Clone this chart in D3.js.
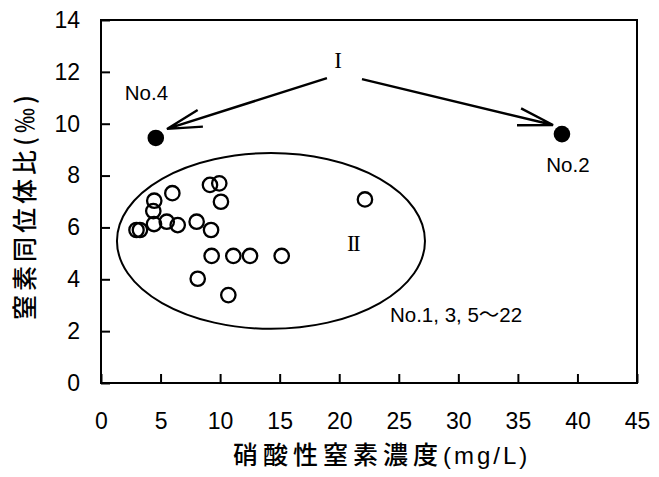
<!DOCTYPE html>
<html>
<head>
<meta charset="utf-8">
<script src="https://cdn.jsdelivr.net/npm/d3@7"></script>
<style>
  body { margin: 0; background: #fff; }
  .tick text { font-family: "Liberation Sans", Arial, sans-serif; font-size: 23px; fill: #000; }
  .jp { font-family: "Noto Sans CJK JP", sans-serif; fill: #000; }
  .roman { font-family: "Liberation Serif", serif; fill: #000; }
  .note { font-family: "Liberation Sans", "Noto Sans CJK JP", sans-serif; font-size: 20.5px; fill: #000; }
</style>
</head>
<body>
<svg></svg>
<script>
var width = 659;
var height = 477;
var margin = {top: 20, right: 22, bottom: 94, left: 101};

// data
var xTicks = [0, 5, 10, 15, 20, 25, 30, 35, 40, 45];
var yTicks = [0, 2, 4, 6, 8, 10, 12, 14];

// group I (filled)
var groupI = [
  {name: "No.4", x: 4.6, y: 9.45},
  {name: "No.2", x: 38.7, y: 9.6}
];

// group II (open): nitrate N (mg/L), d15N (permil)
var nitrateII = [2.98, 3.27, 4.47, 4.39, 4.45, 5.52, 5.99, 6.44, 8.03, 9.15,
                 9.93, 10.07, 9.24, 9.29, 11.11, 12.51, 15.17, 8.12, 10.69, 22.16];
var d15nII    = [5.90, 5.90, 7.03, 6.63, 6.13, 6.22, 7.32, 6.09, 6.22, 7.64,
                 7.70, 6.99, 5.90, 4.90, 4.90, 4.90, 4.90, 4.02, 3.39, 7.08];

// annotation ellipse around group II (data units)
var ellipseII = {cx: 14.27, cy: 5.48, rx: 12.93, ry: 3.39};

var arrows = [
  {from: [18.97, 11.76], to: [5.54, 9.80]},
  {from: [21.91, 11.72], to: [37.95, 9.95]}
];

var svg = d3.select("svg")
    .attr("width", width)
    .attr("height", height);

var x = d3.scaleLinear().domain([0, 45]).range([margin.left, width - margin.right]);
var y = d3.scaleLinear().domain([0, 14]).range([height - margin.bottom, margin.top]);

// axes
var xAxis = svg.append("g")
    .attr("transform", "translate(0," + y(0) + ")")
    .call(d3.axisBottom(x).tickValues(xTicks).tickSizeInner(-9).tickSizeOuter(0).tickPadding(30));
xAxis.select(".domain").remove();
xAxis.selectAll(".tick line").attr("stroke", "#000").attr("stroke-width", 2);

var yAxis = svg.append("g")
    .attr("transform", "translate(" + x(0) + ",0)")
    .call(d3.axisLeft(y).tickValues(yTicks).tickSizeInner(-9).tickSizeOuter(0).tickPadding(21));
yAxis.select(".domain").remove();
yAxis.selectAll(".tick line").attr("stroke", "#000").attr("stroke-width", 2);

// frame
svg.append("rect")
    .attr("x", x(0)).attr("y", y(14))
    .attr("width", x(45) - x(0)).attr("height", y(0) - y(14))
    .attr("fill", "none").attr("stroke", "#000").attr("stroke-width", 2);

// axis titles
var xt = svg.append("text").attr("class", "jp")
    .attr("x", 233).attr("y", 464)
    .style("font-size", "25px").style("font-weight", "500");
xt.append("tspan").style("letter-spacing", "5px").text("硝酸性窒素濃度");
xt.append("tspan").style("font-family", "'Liberation Sans', sans-serif")
    .style("font-size", "24px").style("letter-spacing", "3px").text("(mg/L)");

var yt = svg.append("text").attr("class", "jp")
    .attr("transform", "translate(34," + ((y(0) + y(14)) / 2 + 4) + ") rotate(-90)")
    .attr("text-anchor", "middle")
    .style("font-size", "25px").style("font-weight", "500");
yt.append("tspan").style("letter-spacing", "4px").text("窒素同位体比");
yt.append("tspan").style("letter-spacing", "4px").text("(‰)");

// ellipse
svg.append("ellipse")
    .attr("cx", x(ellipseII.cx)).attr("cy", y(ellipseII.cy))
    .attr("rx", x(ellipseII.rx) - x(0)).attr("ry", y(0) - y(ellipseII.ry))
    .attr("fill", "none").attr("stroke", "#000").attr("stroke-width", 2);

// open circles
svg.append("g").selectAll("circle")
    .data(d3.range(nitrateII.length))
    .enter().append("circle")
    .attr("cx", function(i) { return x(nitrateII[i]); })
    .attr("cy", function(i) { return y(d15nII[i]); })
    .attr("r", 7.2)
    .attr("fill", "none")
    .attr("stroke", "#000")
    .attr("stroke-width", 2.3);

// filled dots
svg.append("g").selectAll("circle")
    .data(groupI)
    .enter().append("circle")
    .attr("cx", function(d) { return x(d.x); })
    .attr("cy", function(d) { return y(d.y); })
    .attr("r", 8.3)
    .attr("fill", "#000");

// arrows (open V heads)
var barb = 36, ang = 14 * Math.PI / 180;
arrows.forEach(function(a) {
  var x1 = x(a.from[0]), y1 = y(a.from[1]), x2 = x(a.to[0]), y2 = y(a.to[1]);
  var t = Math.atan2(y1 - y2, x1 - x2);
  var p = "M" + x1 + "," + y1 + "L" + x2 + "," + y2 +
          "M" + (x2 + barb * Math.cos(t + ang)) + "," + (y2 + barb * Math.sin(t + ang)) +
          "L" + x2 + "," + y2 +
          "L" + (x2 + barb * Math.cos(t - ang)) + "," + (y2 + barb * Math.sin(t - ang));
  svg.append("path").attr("d", p)
      .attr("fill", "none").attr("stroke", "#000").attr("stroke-width", 2.4);
});

// labels
svg.append("text").attr("class", "roman")
    .attr("x", x(19.9)).attr("y", y(12.46) + 8)
    .attr("text-anchor", "middle").style("font-size", "23px")
    .text("I");
svg.append("text").attr("class", "roman")
    .attr("x", x(21.16)).attr("y", y(5.40) + 8)
    .attr("text-anchor", "middle").style("font-size", "23px").style("letter-spacing", "-1.5px")
    .text("II");

svg.append("text").attr("class", "note")
    .attr("x", x(2.0)).attr("y", y(10.91))
    .text("No.4");
svg.append("text").attr("class", "note")
    .attr("x", x(39.2)).attr("y", y(8.14))
    .attr("text-anchor", "middle")
    .text("No.2");
svg.append("text").attr("class", "note")
    .attr("x", x(24.26)).attr("y", y(2.35))
    .text("No.1, 3, 5〜22");
</script>
</body>
</html>
